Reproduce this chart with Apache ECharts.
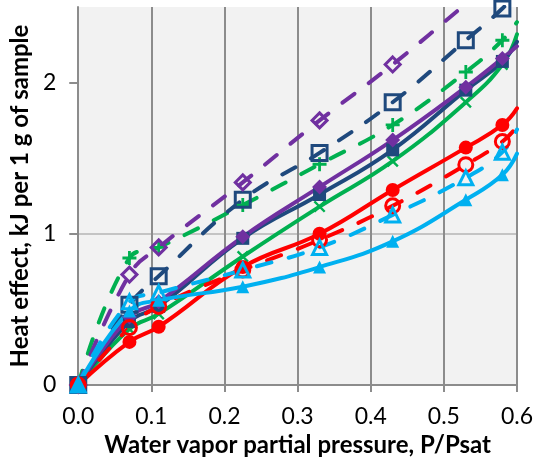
<!DOCTYPE html>
<html>
<head>
<meta charset="utf-8">
<script src="https://cdn.jsdelivr.net/npm/echarts@6/dist/echarts.min.js"></script>
<style>
html,body{margin:0;padding:0;background:#fff;}
#chart{width:541px;height:464px;}
</style>
</head>
<body>
<div id="chart"></div>
<script>
// x positions of the measurements (last point = value read at the right plot edge)
const xs = [0, 0.07, 0.11, 0.225, 0.33, 0.43, 0.53, 0.58, 0.6];

const purpleSolid   = [0, 0.45, 0.55, 0.98, 1.31, 1.62, 1.97, 2.16, 2.24];
const purpleDashed  = [0, 0.73, 0.91, 1.34, 1.75, 2.12, 2.52, 2.72, 2.8];
const blueSolid     = [0, 0.42, 0.52, 0.97, 1.26, 1.555, 1.95, 2.14, 2.27];
const blueDashed    = [0, 0.53, 0.72, 1.225, 1.535, 1.87, 2.28, 2.49, 2.6];
const greenSolid    = [0, 0.37, 0.47, 0.85, 1.18, 1.48, 1.87, 2.12, 2.32];
const greenDashed   = [0, 0.84, 0.91, 1.19, 1.46, 1.72, 2.07, 2.28, 2.4];
const redSolid      = [0, 0.285, 0.385, 0.78, 1.0, 1.29, 1.57, 1.72, 1.83];
const redDashed     = [0, 0.38, 0.52, 0.76, 0.96, 1.185, 1.457, 1.61, 1.71];
const cyanSolid     = [0, 0.49, 0.56, 0.65, 0.78, 0.95, 1.225, 1.39, 1.53];
const cyanDashed    = [0, 0.55, 0.61, 0.76, 0.91, 1.125, 1.37, 1.54, 1.69];

const xTicks = [0, 0.1, 0.2, 0.3, 0.4, 0.5, 0.6];
const yTicks = [0, 1, 2];

const xTitle = 'Water vapor partial pressure, P/Psat';
const yTitle = 'Heat effect, kJ per 1 g of sample';

const C = {purple:'#7030a0', blue:'#1f497d', green:'#00b050', red:'#ff0000', cyan:'#00b0f0'};
const PLUS = 'path://M4,0H6V4H10V6H6V10H4V6H0V4H4Z';
const CROSS = 'path://M1.4,0L5,3.6L8.6,0L10,1.4L6.4,5L10,8.6L8.6,10L5,6.4L1.4,10L0,8.6L3.6,5L0,1.4Z';
const FONT = 'Lato';

function mk(name, vals, color, dashed, symbol, size, open) {
  const data = vals.map((v, i) => {
    const item = {value: [xs[i], v]};
    if (i === xs.length - 1) item.symbol = 'none';
    return item;
  });
  return {
    name, type: 'line', data, smooth: 0.45, clip: true,
    symbol, symbolSize: size, showAllSymbol: true,
    lineStyle: {color, width: 4, type: dashed ? [15, 18] : 'solid', cap: 'round', join: 'round'},
    itemStyle: open ? {color: 'rgba(0,0,0,0)', borderColor: color, borderWidth: 3}
                    : {color, borderColor: color, borderWidth: 0},
    emphasis: {disabled: true}
  };
}

const splitColors = [];
for (let i = 0; i < 14; i++) {
  splitColors.push(i === 13 ? 'rgba(0,0,0,0)' : (i % 5 === 0 ? '#8c8c8c' : '#c4c4c4'));
}

const chart = echarts.init(document.getElementById('chart'));
chart.setOption({
  animation: false,
  backgroundColor: '#ffffff',
  grid: {left: 77, right: 24, top: 7, bottom: 79, show: true, backgroundColor: '#f2f2f2', borderWidth: 0},
  xAxis: {
    type: 'value', min: 0, max: 0.6, interval: 0.1,
    name: xTitle, nameLocation: 'middle', nameGap: 44,
    nameTextStyle: {fontFamily: FONT, fontWeight: 'bold', fontSize: 24, color: '#000'},
    axisLine: {show: true, lineStyle: {color: '#8c8c8c', width: 2}},
    axisTick: {show: true, inside: false, length: 7, lineStyle: {color: '#8c8c8c', width: 2}},
    axisLabel: {fontFamily: FONT, fontSize: 23, color: '#000', margin: 20,
      customValues: xTicks, formatter: v => v.toFixed(1)},
    splitLine: {show: true, lineStyle: {color: '#8c8c8c', width: 2}}
  },
  yAxis: {
    type: 'value', min: 0, max: 2.5, interval: 0.2,
    name: yTitle, nameLocation: 'middle', nameGap: 41, nameRotate: 90,
    nameTextStyle: {fontFamily: FONT, fontWeight: 'bold', fontSize: 24, color: '#000'},
    axisLine: {show: true, lineStyle: {color: '#8c8c8c', width: 2}},
    axisTick: {show: true, length: 9, customValues: yTicks, lineStyle: {color: '#8c8c8c', width: 2}},
    axisLabel: {fontFamily: FONT, fontSize: 23, color: '#000', margin: 22,
      customValues: yTicks, formatter: v => String(Math.round(v))},
    splitLine: {show: true, showMaxLine: false, lineStyle: {color: splitColors, width: 2}}
  },
  series: [
    mk('green solid', greenSolid, C.green, false, CROSS, 12, false),
    mk('green dashed', greenDashed, C.green, true, PLUS, 14, false),
    mk('blue solid', blueSolid, C.blue, false, 'rect', 13, false),
    mk('blue dashed', blueDashed, C.blue, true, 'rect', 15, true),
    mk('purple solid', purpleSolid, C.purple, false, 'diamond', 15, false),
    mk('purple dashed', purpleDashed, C.purple, true, 'diamond', 15, true),
    mk('red solid', redSolid, C.red, false, 'circle', 14, false),
    mk('red dashed', redDashed, C.red, true, 'circle', 14, true),
    mk('cyan solid', cyanSolid, C.cyan, false, 'triangle', 13, false),
    mk('cyan dashed', cyanDashed, C.cyan, true, 'triangle', 14, true)
  ]
});
</script>
</body>
</html>
